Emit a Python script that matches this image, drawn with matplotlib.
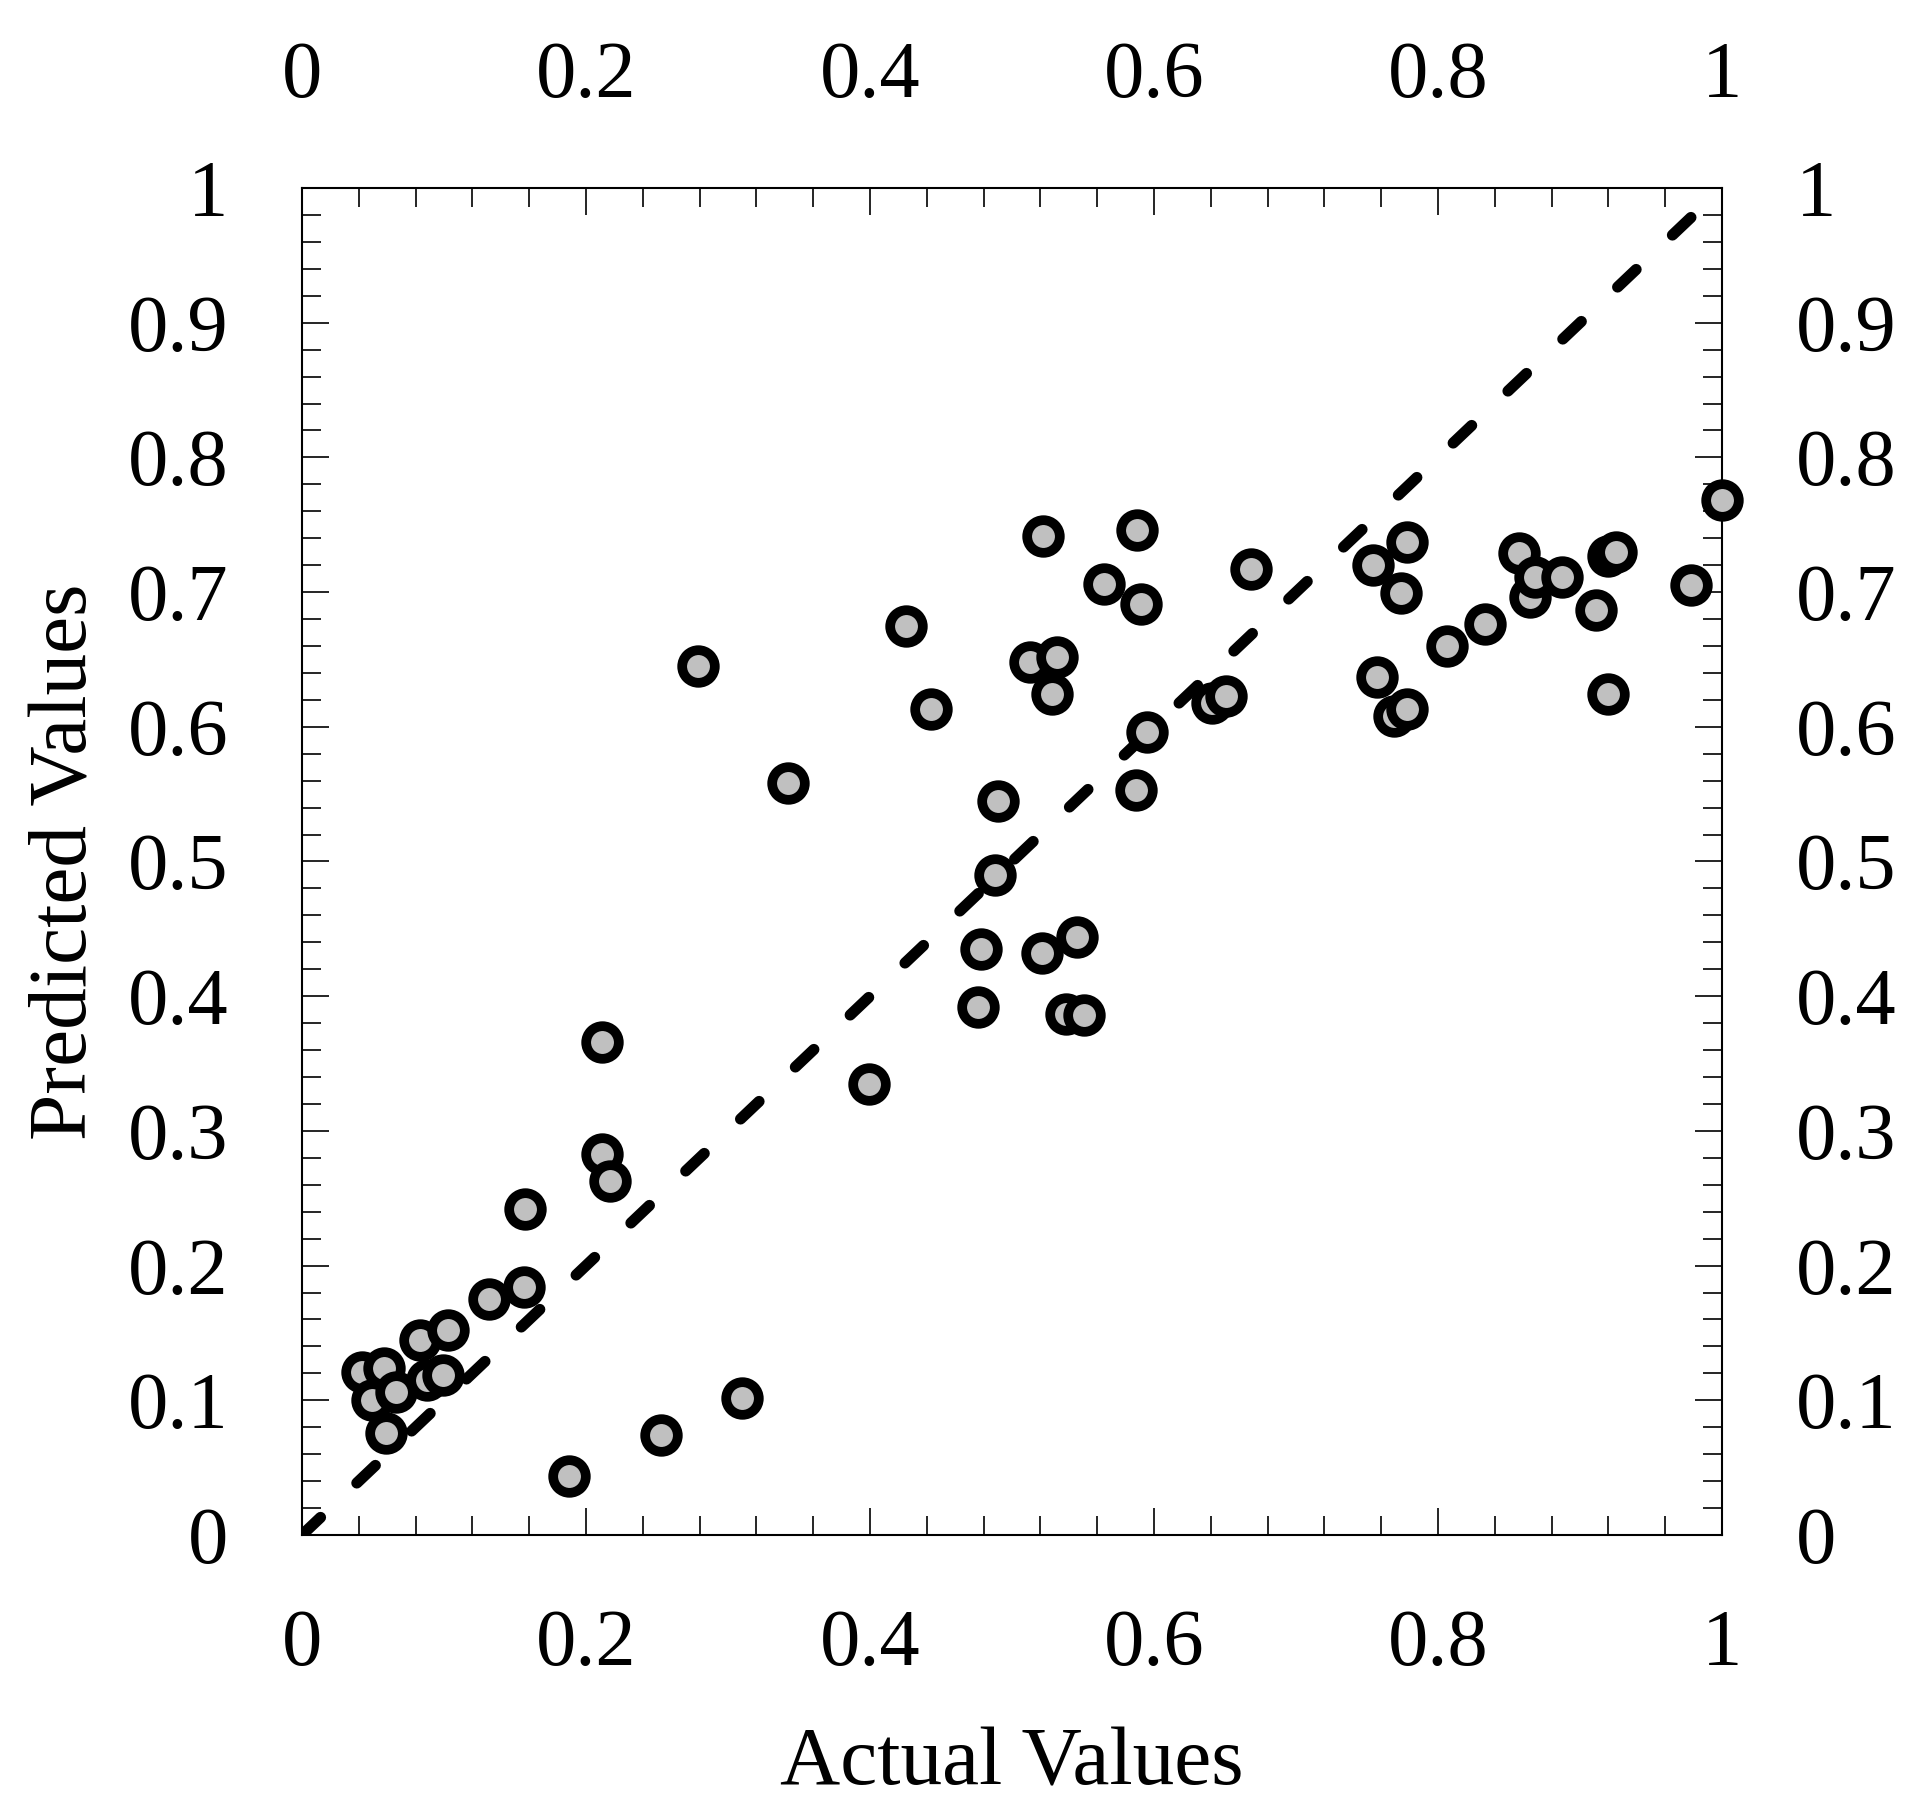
import matplotlib
matplotlib.use('Agg')
import matplotlib.pyplot as plt
from matplotlib.ticker import MultipleLocator

# values
actual = [0.042, 0.058, 0.049, 0.066, 0.059, 0.083, 0.088, 0.103, 0.099, 0.132,
          0.156, 0.157, 0.188, 0.211, 0.217, 0.211, 0.253, 0.310, 0.279, 0.342,
          0.399, 0.425, 0.443, 0.476, 0.478, 0.488, 0.490, 0.513, 0.532, 0.528,
          0.521, 0.522, 0.546, 0.538, 0.551, 0.565, 0.588, 0.591, 0.587, 0.595,
          0.641, 0.651, 0.668, 0.754, 0.757, 0.778, 0.774, 0.769, 0.778, 0.806,
          0.833, 0.857, 0.865, 0.868, 0.887, 0.911, 0.920, 0.925, 0.920, 0.978,
          1.000]
predicted = [0.121, 0.124, 0.100, 0.106, 0.076, 0.145, 0.115, 0.152, 0.119, 0.175,
             0.184, 0.242, 0.044, 0.283, 0.263, 0.366, 0.074, 0.102, 0.645, 0.558,
             0.335, 0.675, 0.613, 0.392, 0.435, 0.490, 0.545, 0.648, 0.652, 0.624,
             0.432, 0.742, 0.444, 0.387, 0.386, 0.706, 0.746, 0.691, 0.553, 0.596,
             0.618, 0.623, 0.717, 0.720, 0.637, 0.737, 0.699, 0.608, 0.613, 0.660,
             0.676, 0.729, 0.696, 0.711, 0.711, 0.687, 0.727, 0.730, 0.624, 0.705,
             0.768]

plt.rcParams['font.family'] = ['Liberation Serif', 'DejaVu Serif']
FS = 58

fig = plt.figure(figsize=(19.26, 18.11), dpi=100)
ax = fig.add_axes([0.1568, 0.1524, 0.8941 - 0.1568, 0.8962 - 0.1524])

# y = x reference line
ax.plot([0, 1], [0, 1], color='black', linewidth=8, dashes=(2.3, 4.5),
        dash_capstyle='round', zorder=2)
ax.plot(actual, predicted, linestyle='none', marker='o', markersize=23.5,
        markerfacecolor='#c0c0c0', markeredgecolor='black', markeredgewidth=7,
        clip_on=False, zorder=3)

ax.set_xlim(0, 1)
ax.set_ylim(0, 1)
ax.xaxis.set_major_locator(MultipleLocator(0.2))
ax.xaxis.set_minor_locator(MultipleLocator(0.04))
ax.yaxis.set_major_locator(MultipleLocator(0.1))
ax.yaxis.set_minor_locator(MultipleLocator(0.02))

fmt = lambda v, p: '0' if abs(v) < 1e-9 else ('1' if abs(v - 1) < 1e-9 else f'{v:.1f}')
ax.xaxis.set_major_formatter(fmt)
ax.yaxis.set_major_formatter(fmt)

ax.tick_params(which='both', direction='in', top=True, right=True,
               labeltop=True, labelright=True, labelsize=FS, width=1.2)
ax.tick_params(which='major', length=19.5, pad=53)
ax.tick_params(which='minor', length=13.7)
for s in ax.spines.values():
    s.set_linewidth(1.5)

ax.set_xlabel('Actual Values', fontsize=60, labelpad=33)
ax.set_ylabel('Predicted Values', fontsize=60, labelpad=17)

fig.savefig('out.png', dpi=100)
